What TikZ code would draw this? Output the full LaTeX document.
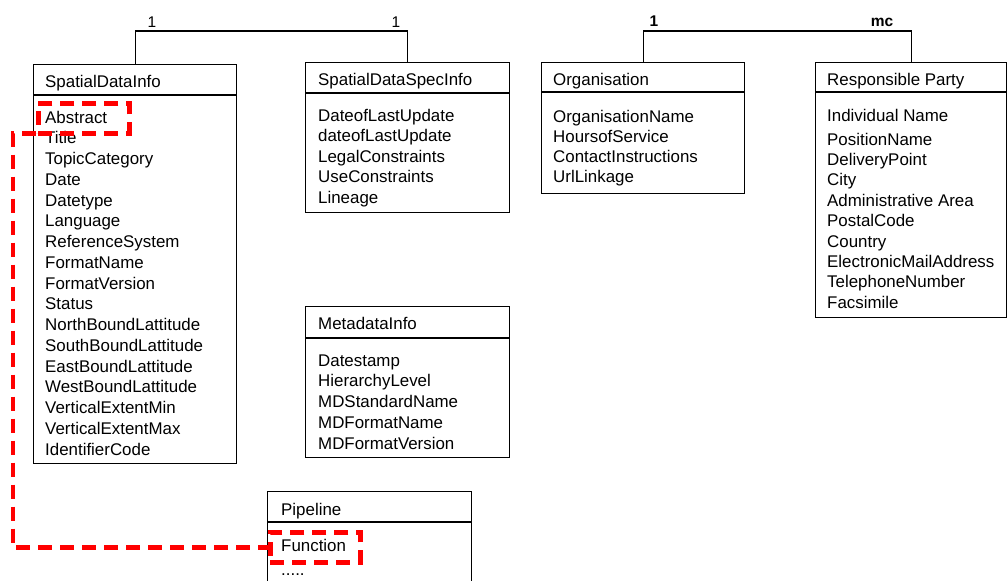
\documentclass[tikz,border=0pt]{standalone}
\usepackage{fontspec}
\setmainfont{Liberation Sans}
\begin{document}
\begin{tikzpicture}[x=1pt,y=-1pt,
  umlbox/.style={draw, line width=1.2pt, inner sep=0pt, anchor=north west},
  txt/.style={anchor=base west, inner sep=0pt, font=\fontsize{16.9}{20}\selectfont},
  mult/.style={anchor=base, inner sep=0pt, font=\fontsize{15.5}{18}\selectfont},
  hl/.style={draw=red, line width=4.5pt, dash pattern=on 14pt off 8pt, inner sep=0pt, anchor=north west},
  link/.style={line width=1.2pt},
  redlink/.style={draw=red, line width=4.5pt, dash pattern=on 14pt off 8pt}]
\useasboundingbox (0,0) rectangle (1007,581);
\clip (0,0) rectangle (1007,581);

% SpatialDataInfo
\node[umlbox, minimum width=203pt, minimum height=399pt] (sdi) at (33,64) {};
\draw[link] ([yshift=-31pt]sdi.north west) -- ([yshift=-31pt]sdi.north east);
\node[txt] (sdit) at (45,87) {SpatialDataInfo};
\foreach \t [count=\i from 0] in {Abstract,Title,TopicCategory,Date,Datetype,Language,ReferenceSystem,FormatName,FormatVersion,Status,NorthBoundLattitude,SouthBoundLattitude,EastBoundLattitude,WestBoundLattitude,VerticalExtentMin,VerticalExtentMax,IdentifierCode}
  \node[txt] (sdi\i) at (45,{123+\i*20.75}) {\t};

% SpatialDataSpecInfo
\node[umlbox, minimum width=204pt, minimum height=150pt] (sdsi) at (305,62) {};
\draw[link] ([yshift=-31pt]sdsi.north west) -- ([yshift=-31pt]sdsi.north east);
\node[txt] (sdsit) at (318,85) {SpatialDataSpecInfo};
\foreach \t [count=\i from 0] in {DateofLastUpdate,dateofLastUpdate,LegalConstraints,UseConstraints,Lineage}
  \node[txt] (sdsi\i) at (318,{121+\i*20.5}) {\t};

% Organisation
\node[umlbox, minimum width=203pt, minimum height=131pt] (org) at (541,62) {};
\draw[link] ([yshift=-30pt]org.north west) -- ([yshift=-30pt]org.north east);
\node[txt] (orgt) at (553,85) {Organisation};
\foreach \t [count=\i from 0] in {OrganisationName,HoursofService,ContactInstructions,UrlLinkage}
  \node[txt] (org\i) at (553,{122+\i*20}) {\t};

% Responsible Party
\node[umlbox, minimum width=191pt, minimum height=255pt] (rp) at (815,62) {};
\draw[link] ([yshift=-30pt]rp.north west) -- ([yshift=-30pt]rp.north east);
\node[txt] (rpt) at (827,85) {Responsible Party};
\node[txt] (rpa) at (827,121) {Individual Name};
\foreach \t [count=\i from 0] in {PositionName,DeliveryPoint,City,Administrative Area,PostalCode,Country,ElectronicMailAddress,TelephoneNumber,Facsimile}
  \node[txt] (rp\i) at (827,{145+\i*20.4}) {\t};

% MetadataInfo
\node[umlbox, minimum width=204pt, minimum height=151pt] (mi) at (305,306) {};
\draw[link] ([yshift=-32pt]mi.north west) -- ([yshift=-32pt]mi.north east);
\node[txt] (mit) at (318,329) {MetadataInfo};
\foreach \t [count=\i from 0] in {Datestamp,HierarchyLevel,MDStandardName,MDFormatName,MDFormatVersion}
  \node[txt] (mi\i) at (318,{366+\i*20.75}) {\t};

% Pipeline
\node[umlbox, minimum width=204pt, minimum height=120pt] (pl) at (267,491) {};
\draw[link] ([yshift=-31pt]pl.north west) -- ([yshift=-31pt]pl.north east);
\node[txt] (plt) at (281,515) {Pipeline};
\node[txt] (pl0) at (281,551) {Function};
\node[txt] (pl1) at (281,575) {.....};

% associations
\draw[link] (sdi.north) |- ([yshift=31pt]sdsi.north) -- (sdsi.north);
\draw[link] (org.north) |- ([yshift=31pt]rp.north) -- (rp.north);
\node[mult] (m1) at (152,27) {1};
\node[mult] (m2) at (396,27) {1};
\node[mult, font=\fontsize{15.5}{18}\selectfont\bfseries] (m3) at (654,26) {1};
\node[mult, font=\fontsize{15.5}{18}\selectfont\bfseries] (m4) at (882,26) {mc};

% red highlights
\node[hl, minimum width=91pt, minimum height=30pt] (habs) at (36,101) {};
\node[hl, minimum width=90pt, minimum height=30pt] (hfun) at (268,530) {};
\draw[redlink] ([yshift=2pt]habs.south west) -- ++(-23,0) |- (hfun.west);
\end{tikzpicture}
\end{document}
